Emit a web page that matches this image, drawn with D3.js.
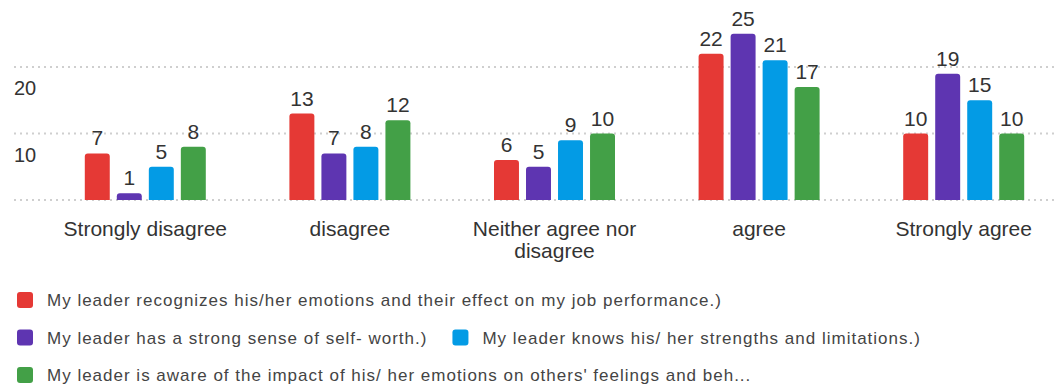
<!DOCTYPE html>
<html>
<head>
<meta charset="utf-8">
<script src="https://cdn.jsdelivr.net/npm/d3@7"></script>
<style>
  body { margin: 0; background: #fff; }
  svg { display: block; font-family: "Liberation Sans", Arial, sans-serif; }
</style>
</head>
<body>
<div id="chart"></div>
<script>
var categories = ["Strongly disagree", "disagree", "Neither agree nor disagree", "agree", "Strongly agree"];
var seriesNames = [
  "My leader recognizes his/her emotions and their effect on my job performance.)",
  "My leader has a strong sense of self- worth.)",
  "My leader knows his/ her strengths and limitations.)",
  "My leader is aware of the impact of his/ her emotions on others' feelings and beh..."
];
var recognizes = [7, 13, 6, 22, 10];
var selfWorth = [1, 7, 5, 25, 19];
var strengths = [5, 8, 9, 21, 15];
var aware = [8, 12, 10, 17, 10];
var colors = ["#e53935", "#5e35b1", "#039be5", "#43a047"];
var yTicks = [0, 10, 20];

var svgWidth = 1057;
var svgHeight = 385;

var svg = d3.select("#chart")
  .append("svg")
  .attr("width", svgWidth)
  .attr("height", svgHeight);

var allSeries = [recognizes, selfWorth, strengths, aware];

var x0 = d3.scaleBand()
  .domain(categories)
  .range([43, 1066]);

var x1 = d3.scaleBand()
  .domain(d3.range(allSeries.length))
  .range([-60.5, 60.5])
  .paddingInner(0.22);

var y = d3.scaleLinear()
  .domain([0, 30])
  .range([200, 0.5]);

// dotted gridlines
svg.append("g")
  .selectAll("line")
  .data(yTicks)
  .enter()
  .append("line")
  .attr("x1", 14)
  .attr("x2", svgWidth)
  .attr("y1", d => y(d))
  .attr("y2", d => y(d))
  .attr("stroke", "#cfcfcf")
  .attr("stroke-width", 2)
  .attr("stroke-dasharray", "2,4");

// tick labels sit under their line
svg.append("g")
  .selectAll("text")
  .data(yTicks.filter(d => d > 0))
  .enter()
  .append("text")
  .attr("x", 14)
  .attr("y", d => y(d) + 28)
  .attr("fill", "#333")
  .style("font-size", "20px")
  .text(d => d);

var barData = [];
categories.forEach((c, i) => {
  allSeries.forEach((s, j) => {
    barData.push({ cat: c, s: j, value: s[i] });
  });
});

function topRounded(x, yTop, w, h, r) {
  r = Math.min(r, h, w / 2);
  return "M" + x + "," + (yTop + h) +
    "V" + (yTop + r) +
    "Q" + x + "," + yTop + " " + (x + r) + "," + yTop +
    "H" + (x + w - r) +
    "Q" + (x + w) + "," + yTop + " " + (x + w) + "," + (yTop + r) +
    "V" + (yTop + h) + "Z";
}

var bars = svg.append("g");

bars.selectAll("path")
  .data(barData)
  .enter()
  .append("path")
  .attr("d", d => {
    var bx = x0(d.cat) + x0.bandwidth() / 2 + x1(d.s);
    return topRounded(bx, y(d.value), x1.bandwidth(), y(0) - y(d.value), 3);
  })
  .attr("fill", d => colors[d.s]);

bars.selectAll("text")
  .data(barData)
  .enter()
  .append("text")
  .attr("x", d => x0(d.cat) + x0.bandwidth() / 2 + x1(d.s) + x1.bandwidth() / 2)
  .attr("y", d => y(d.value) - 8)
  .attr("text-anchor", "middle")
  .attr("fill", "#333")
  .style("font-size", "21px")
  .text(d => d.value);

// category labels, wrapped
var catLabels = svg.append("g")
  .selectAll("text")
  .data(categories)
  .enter()
  .append("text")
  .attr("x", d => x0(d) + x0.bandwidth() / 2)
  .attr("y", 236)
  .attr("text-anchor", "middle")
  .attr("fill", "#333")
  .style("font-size", "21px");

catLabels.each(function(d) {
  var t = d3.select(this);
  var words = d.split(" ");
  var line = [];
  var lineNo = 0;
  var tspan = t.append("tspan").attr("x", t.attr("x")).attr("dy", 0);
  words.forEach(w => {
    line.push(w);
    tspan.text(line.join(" "));
    if (tspan.node().getComputedTextLength() > 184 && line.length > 1) {
      line.pop();
      tspan.text(line.join(" "));
      line = [w];
      lineNo++;
      tspan = t.append("tspan").attr("x", t.attr("x")).attr("dy", 22).text(w);
    }
  });
});

// legend, flowing left to right
var legend = svg.append("g");
var lx = 17;
var rowY = 300;
seriesNames.forEach((name, i) => {
  var item = legend.append("g");
  item.append("rect")
    .attr("width", 16)
    .attr("height", 16)
    .attr("rx", 3)
    .attr("y", -8)
    .attr("fill", colors[i]);
  var label = item.append("text")
    .attr("x", 30)
    .attr("y", 6)
    .attr("fill", "#444")
    .style("font-size", "17px")
    .style("letter-spacing", "1px")
    .text(name);
  var w = 30 + label.node().getComputedTextLength();
  if (lx > 17 && lx + w > svgWidth - 10) {
    lx = 17;
    rowY += 37.5;
  }
  item.attr("transform", `translate(${lx}, ${rowY})`);
  lx += w + 25;
});
</script>
</body>
</html>
